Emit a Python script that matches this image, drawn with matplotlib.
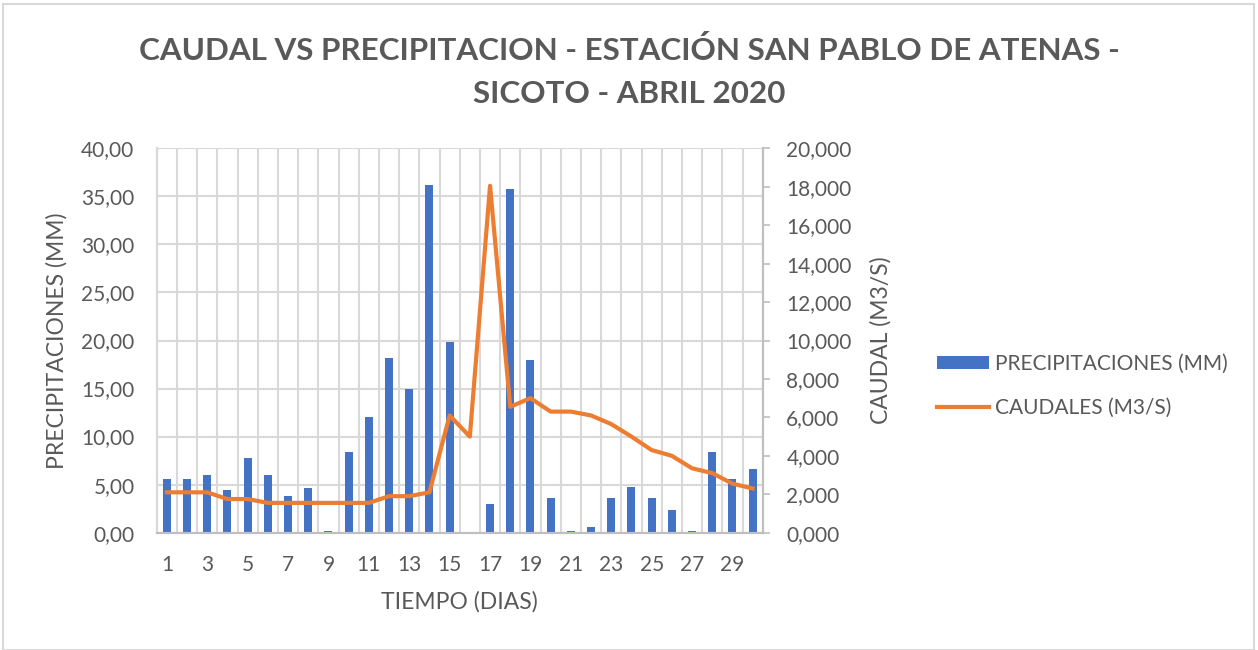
import numpy as np
import matplotlib.pyplot as plt
from matplotlib.ticker import FuncFormatter, MultipleLocator
from matplotlib.patches import Rectangle

plt.rcParams['font.family'] = ['Lato', 'DejaVu Sans']

dias = list(range(1, 31))
precipitaciones = [5.6, 5.6, 6.0, 4.4, 7.8, 6.0, 3.8, 4.6, 0.2, 8.4,
                   12.0, 18.2, 15.0, 36.2, 19.8, 0.0, 3.0, 35.8, 18.0, 3.6,
                   0.2, 0.6, 3.6, 4.8, 3.6, 2.4, 0.2, 8.4, 5.6, 6.6]
caudales = [2.10, 2.10, 2.10, 1.75, 1.75, 1.55, 1.55, 1.55, 1.55, 1.55,
            1.55, 1.90, 1.90, 2.10, 6.10, 5.00, 18.05, 6.55, 7.00, 6.30,
            6.30, 6.10, 5.65, 5.00, 4.30, 4.00, 3.35, 3.10, 2.55, 2.30]

azul = '#4472C4'
naranja = '#ED7D31'
texto = '#595959'
rejilla = '#D9D9D9'

fig = plt.figure(figsize=(12.58, 6.5), dpi=100)
ax = fig.add_axes([0.1246, 0.1805, 0.4817, 0.5913])
ax2 = ax.twinx()

ax.bar(dias, precipitaciones, width=0.4, color=azul, zorder=2,
       label='PRECIPITACIONES (MM)')
ax2.plot(dias, caudales, color=naranja, linewidth=3, zorder=3,
         solid_joinstyle='round', label='CAUDALES (M3/S)')

ax.set_xlim(0.5, 30.5)
ax.set_ylim(0, 40)
ax2.set_ylim(0, 20)

ax.yaxis.set_major_locator(MultipleLocator(5))
ax2.yaxis.set_major_locator(MultipleLocator(2))
ax.set_xticks(dias[::2])
ax.set_xticks(np.arange(0.5, 31, 1), minor=True)
ax.yaxis.set_major_formatter(FuncFormatter(lambda v, p: f'{v:.2f}'.replace('.', ',')))
ax2.yaxis.set_major_formatter(FuncFormatter(lambda v, p: f'{v:.3f}'.replace('.', ',')))

ax.set_axisbelow(True)
ax.grid(axis='y', which='major', color=rejilla, linewidth=1.5)
ax.grid(axis='x', which='minor', color=rejilla, linewidth=1.5)

ax.tick_params(axis='x', which='both', length=0, pad=16, labelsize=15, labelcolor=texto)
ax.tick_params(axis='y', length=0, pad=16, labelsize=15, labelcolor=texto)
ax2.tick_params(axis='y', length=5, width=1.2, color='#BFBFBF', pad=12,
                labelsize=15, labelcolor=texto)

for a in (ax, ax2):
    a.spines['top'].set_visible(False)
    a.spines['left'].set_color(rejilla)
    a.spines['bottom'].set_color('#BFBFBF')
    a.spines['right'].set_color('#BFBFBF')
    a.spines['left'].set_linewidth(1.5)
    a.spines['bottom'].set_linewidth(1.5)
    a.spines['right'].set_linewidth(1.5)

ax.set_ylabel('PRECIPITACIONES (MM)', fontsize=16.5, color=texto, va='center')
ax.yaxis.set_label_coords(-0.1645, 0.5)
ax2.set_ylabel('CAUDAL (M3/S)', fontsize=16.5, color=texto, va='center')
ax2.yaxis.set_label_coords(1.195, 0.5)
ax.set_xlabel('TIEMPO (DIAS)', fontsize=16.5, color=texto, va='center')
ax.xaxis.set_label_coords(0.5, -0.181)

fig.text(0.5, 1 - 72 / 650,
         'CAUDAL VS PRECIPITACION - ESTACIÓN SAN PABLO DE ATENAS -\nSICOTO - ABRIL 2020',
         ha='center', va='center', fontsize=22.6, fontweight='bold', color=texto,
         linespacing=1.69)

h1, l1 = ax.get_legend_handles_labels()
h2, l2 = ax2.get_legend_handles_labels()
leg = fig.legend(h1 + h2, l1 + l2, loc='center left',
                 bbox_to_anchor=(918 / 1258, 1 - 386 / 650), frameon=False,
                 fontsize=15, labelcolor=texto, handlelength=2.5,
                 handleheight=0.55, handletextpad=0.3, labelspacing=1.15)

fig.patches.append(Rectangle((3 / 1258, 0), 1 - 7 / 1258, 1 - 4 / 650,
                             transform=fig.transFigure, fill=False,
                             edgecolor=rejilla, linewidth=1.5))

fig.savefig('out.png', dpi=100)
